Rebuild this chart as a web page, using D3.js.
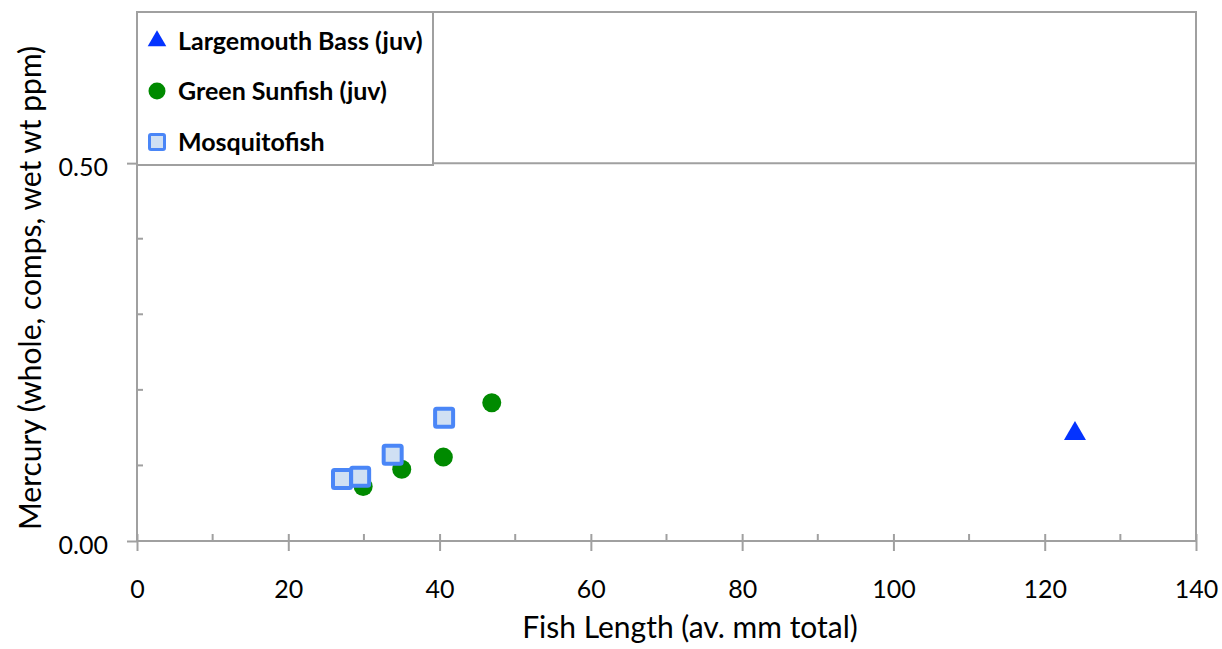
<!DOCTYPE html>
<html>
<head>
<meta charset="utf-8">
<script src="https://cdn.jsdelivr.net/npm/d3@7"></script>
<style>
  body { margin: 0; background: #fff; }
  text { font-family: Lato, "Open Sans", sans-serif; fill: #000; }
</style>
</head>
<body>
<svg id="chart" width="1222" height="649"></svg>
<script>
// data
const bassLength = [124.0];
const bassHg = [0.142];
const sunfishLength = [29.9, 35.0, 40.5, 46.9];
const sunfishHg = [0.072, 0.095, 0.111, 0.183];
const mosqLength = [27.1, 29.5, 33.8, 40.6];
const mosqHg = [0.082, 0.085, 0.114, 0.163];

const xMajor = [0, 20, 40, 60, 80, 100, 120, 140];
const xMinor = [10, 30, 50, 70, 90, 110, 130];
const yMajor = [0, 0.5];
const yMinor = [0.1, 0.2, 0.3, 0.4, 0.6];
const legendNames = ["Largemouth Bass (juv)", "Green Sunfish (juv)", "Mosquitofish"];

const svg = d3.select("#chart");
const m = {left: 137, right: 1196, top: 12, bottom: 541};
const grey = "#a0a0a0";

const x = d3.scaleLinear().domain([0, 140]).range([m.left, m.right]);
const y = d3.scaleLinear().domain([0, 0.7]).range([m.bottom, m.top]);

// gridline at 0.5
svg.append("line")
  .attr("x1", m.left).attr("x2", m.right)
  .attr("y1", y(0.5)).attr("y2", y(0.5))
  .attr("stroke", grey).attr("stroke-width", 2);

// frame
svg.append("rect")
  .attr("x", m.left).attr("y", m.top)
  .attr("width", m.right - m.left).attr("height", m.bottom - m.top)
  .attr("fill", "none").attr("stroke", grey).attr("stroke-width", 2);

// x axis major ticks + labels
const xAxis = svg.append("g").attr("transform", `translate(0,${m.bottom})`)
  .call(d3.axisBottom(x).tickValues(xMajor).tickSize(10).tickPadding(29));
xAxis.select(".domain").remove();
xAxis.selectAll(".tick line").attr("y1", -7).attr("stroke", grey).attr("stroke-width", 2);
xAxis.selectAll(".tick text").attr("font-size", 25).style("font-family", "Lato");

svg.append("g").selectAll("line").data(xMinor).join("line")
  .attr("x1", d => x(d)).attr("x2", d => x(d))
  .attr("y1", m.bottom).attr("y2", m.bottom - 7)
  .attr("stroke", grey).attr("stroke-width", 2);

// y axis
const yAxis = svg.append("g").attr("transform", `translate(${m.left},0)`)
  .call(d3.axisLeft(y).tickValues(yMajor).tickSize(10).tickPadding(19).tickFormat(d3.format(".2f")));
yAxis.select(".domain").remove();
yAxis.selectAll(".tick line").attr("stroke", grey).attr("stroke-width", 2);
yAxis.selectAll(".tick text").attr("font-size", 25).attr("dy", "0.48em").style("font-family", "Lato");

svg.append("g").selectAll("line").data(yMinor).join("line")
  .attr("x1", m.left).attr("x2", m.left + 6)
  .attr("y1", d => y(d)).attr("y2", d => y(d))
  .attr("stroke", grey).attr("stroke-width", 2);

// axis titles
svg.append("text")
  .attr("x", 690).attr("y", 638)
  .attr("text-anchor", "middle").attr("font-size", 30)
  .text("Fish Length (av. mm total)");
svg.append("text")
  .attr("transform", `translate(41,288) rotate(-90)`)
  .attr("text-anchor", "middle").attr("font-size", 30)
  .text("Mercury (whole, comps, wet wt ppm)");

// points
const tri = d3.symbol().type(d3.symbolTriangle).size(210);
svg.append("g").selectAll("path").data(d3.zip(bassLength, bassHg)).join("path")
  .attr("d", tri)
  .attr("transform", d => `translate(${x(d[0])},${y(d[1])})`)
  .attr("fill", "#0433ff");

svg.append("g").selectAll("circle").data(d3.zip(sunfishLength, sunfishHg)).join("circle")
  .attr("cx", d => x(d[0])).attr("cy", d => y(d[1])).attr("r", 9.5)
  .attr("fill", "#008a00");

svg.append("g").selectAll("rect").data(d3.zip(mosqLength, mosqHg)).join("rect")
  .attr("x", d => x(d[0]) - 9).attr("y", d => y(d[1]) - 9)
  .attr("width", 18).attr("height", 18).attr("rx", 1.5)
  .attr("fill", "#d0e0f3").attr("stroke", "#4a86f7").attr("stroke-width", 4);

// legend
const lg = svg.append("g");
lg.append("rect")
  .attr("x", m.left).attr("y", m.top)
  .attr("width", 296).attr("height", 153)
  .attr("fill", "#fff").attr("stroke", grey).attr("stroke-width", 2);

const rowY = [41, 91, 142];
const lx = 157;
lg.append("path").attr("d", d3.symbol().type(d3.symbolTriangle).size(150))
  .attr("transform", `translate(${lx},${rowY[0]})`).attr("fill", "#0433ff");
lg.append("circle").attr("cx", lx).attr("cy", rowY[1]).attr("r", 8.5).attr("fill", "#008a00");
lg.append("rect").attr("x", lx - 7.5).attr("y", rowY[2] - 7.5).attr("width", 15).attr("height", 15)
  .attr("rx", 1.5).attr("fill", "#d0e0f3").attr("stroke", "#4a86f7").attr("stroke-width", 3);

lg.selectAll("text.lab").data(legendNames).join("text")
  .attr("class", "lab")
  .attr("x", 178).attr("y", (d, i) => rowY[i] + 9)
  .attr("font-size", 25).attr("font-weight", "bold")
  .text(d => d);
</script>
</body>
</html>
